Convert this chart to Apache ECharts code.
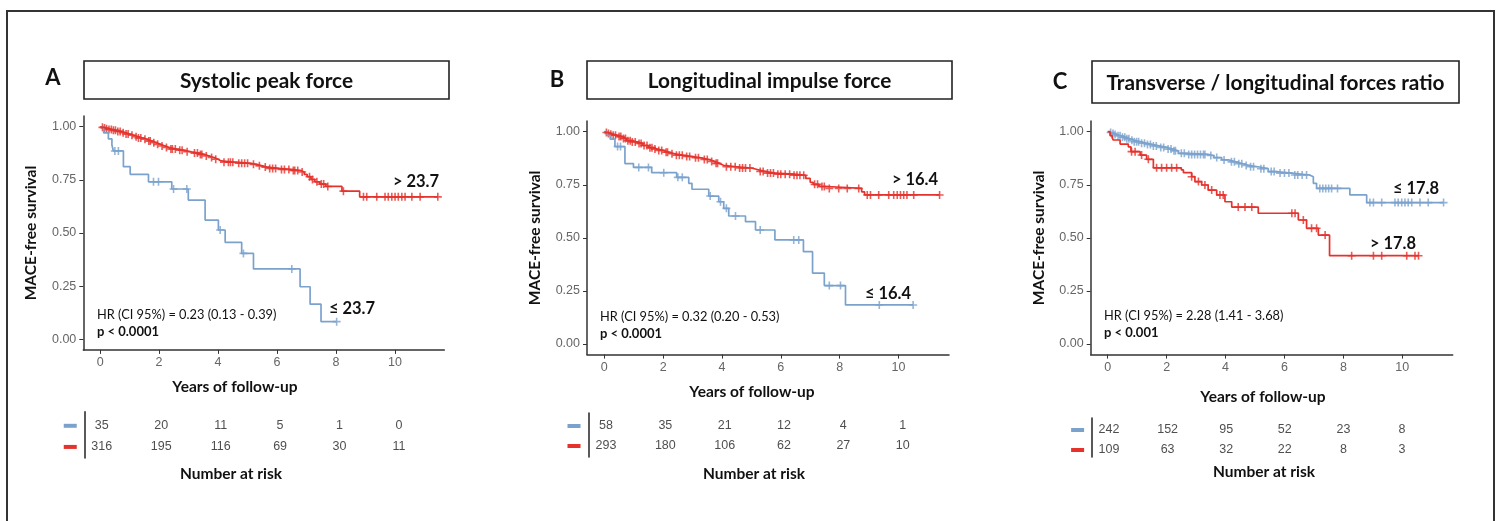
<!DOCTYPE html>
<html>
<head>
<meta charset="utf-8">
<script src="https://cdn.jsdelivr.net/npm/echarts@6/dist/echarts.min.js"></script>
<style>
  html, body { margin: 0; padding: 0; background: #fff; }
  #chart { width: 1501px; height: 521px; }
</style>
</head>
<body>
<div id="chart"></div>
<script>
// ---- Kaplan-Meier data: step points [years, survival], censoring times (years) ----
const riskTimes = [0, 2, 4, 6, 8, 10];
const yTicks = [0, 0.25, 0.5, 0.75, 1];

// Panel A: systolic peak force
const aLowSteps = [[0.12,0.971],[0.28,0.943],[0.4,0.914],[0.45,0.886],[0.79,0.812],[1.02,0.776],[1.64,0.741],[2.43,0.707],[2.99,0.655],[3.56,0.561],[4.01,0.514],[4.24,0.456],[4.8,0.404],[5.2,0.331],[6.78,0.247],[7.12,0.165],[7.49,0.083]];
const aLowEnd = 8.02;
const aLowCensor = [0.5,0.62,1.81,1.98,2.49,2.94,4.07,4.86,6.5,8.02];
const aHighSteps = [[0.05,0.997],[0.12,0.994],[0.2,0.991],[0.3,0.987],[0.42,0.983],[0.55,0.978],[0.7,0.972],[0.85,0.966],[1.0,0.960],[1.15,0.953],[1.3,0.947],[1.45,0.941],[1.6,0.933],[1.75,0.925],[1.9,0.917],[2.05,0.909],[2.2,0.902],[2.35,0.895],[2.6,0.889],[2.85,0.882],[3.1,0.876],[3.35,0.869],[3.55,0.862],[3.7,0.855],[3.85,0.847],[4.0,0.839],[4.1,0.833],[4.6,0.828],[5.1,0.823],[5.3,0.816],[5.5,0.810],[5.65,0.804],[6.05,0.799],[6.45,0.794],[6.8,0.787],[6.92,0.776],[7.02,0.765],[7.15,0.752],[7.28,0.741],[7.45,0.730],[7.65,0.719],[8.2,0.697],[8.8,0.670]];
const aHighEnd = 11.45;
const aHighCensor = [0.08,0.15,0.22,0.3,0.38,0.45,0.52,0.6,0.68,0.78,0.88,0.95,1.08,1.22,1.3,1.38,1.52,1.65,1.7,1.82,1.95,2.1,2.25,2.4,2.45,2.55,2.7,2.78,2.95,3.2,3.3,3.4,3.45,3.6,3.78,3.92,4.2,4.35,4.42,4.5,4.7,4.8,4.9,5.0,5.2,5.4,5.6,5.75,5.85,5.95,6.15,6.25,6.4,6.55,6.6,6.7,6.85,7.1,7.2,7.35,7.5,7.58,7.72,8.25,8.93,9.04,9.38,9.66,9.77,9.89,10.0,10.11,10.23,10.34,10.57,10.85,11.45];
const aLowRisk = [35, 20, 11, 5, 1, 0];
const aHighRisk = [316, 195, 116, 69, 30, 11];

// Panel B: longitudinal impulse force
const bLowSteps = [[0.1,0.983],[0.2,0.965],[0.36,0.93],[0.7,0.85],[0.99,0.832],[1.61,0.807],[2.46,0.785],[2.87,0.757],[2.98,0.729],[3.55,0.697],[3.89,0.67],[4.06,0.639],[4.23,0.603],[4.8,0.576],[5.14,0.537],[5.8,0.49],[6.77,0.435],[7.08,0.334],[7.48,0.275],[8.2,0.184]];
const bLowEnd = 10.5;
const bLowCensor = [0.45,0.55,1.17,1.5,2.02,2.5,2.65,3.6,3.95,4.15,4.46,5.3,6.44,6.61,7.65,8.03,9.35,10.5];
const bHighSteps = [[0.05,0.996],[0.12,0.992],[0.2,0.988],[0.3,0.983],[0.45,0.977],[0.6,0.968],[0.75,0.958],[0.9,0.952],[1.1,0.945],[1.3,0.935],[1.5,0.925],[1.65,0.918],[1.8,0.912],[2.0,0.903],[2.2,0.896],[2.4,0.889],[2.7,0.883],[3.0,0.877],[3.3,0.869],[3.55,0.86],[3.75,0.851],[3.9,0.842],[4.05,0.835],[4.5,0.829],[5.0,0.822],[5.2,0.813],[5.45,0.805],[5.8,0.8],[6.45,0.795],[6.85,0.78],[7.0,0.762],[7.1,0.752],[7.3,0.742],[7.57,0.733],[8.75,0.717],[8.85,0.702]];
const bHighEnd = 11.4;
const bHighCensor = [0.07,0.14,0.22,0.3,0.38,0.5,0.56,0.65,0.72,0.8,0.88,0.95,1.05,1.18,1.25,1.35,1.45,1.55,1.62,1.72,1.85,1.95,2.1,2.15,2.3,2.45,2.55,2.65,2.8,2.9,3.1,3.2,3.4,3.5,3.65,3.8,3.85,4.15,4.3,4.45,4.6,4.7,4.8,4.95,5.3,5.4,5.55,5.65,5.75,5.9,6.0,6.15,6.3,6.45,6.55,6.65,6.78,7.15,7.25,7.4,7.48,7.65,7.97,8.26,8.65,8.94,9.05,9.33,9.67,9.84,9.96,10.07,10.18,10.29,10.52,11.4];
const bLowRisk = [58, 35, 21, 12, 4, 1];
const bHighRisk = [293, 180, 106, 62, 27, 10];

// Panel C: transverse / longitudinal forces ratio
const cLowSteps = [[0.05,0.996],[0.12,0.992],[0.2,0.987],[0.3,0.981],[0.45,0.974],[0.6,0.967],[0.75,0.96],[0.9,0.953],[1.1,0.946],[1.3,0.94],[1.5,0.933],[1.75,0.926],[2.0,0.918],[2.2,0.91],[2.4,0.898],[2.7,0.893],[3.4,0.888],[3.6,0.878],[3.87,0.867],[4.1,0.858],[4.35,0.849],[4.6,0.841],[4.8,0.835],[5.1,0.826],[5.45,0.812],[5.7,0.805],[6.25,0.796],[6.85,0.788],[6.98,0.757],[7.09,0.733],[8.22,0.702],[8.79,0.666]];
const cLowEnd = 11.4;
const cLowCensor = [0.1,0.18,0.25,0.35,0.42,0.5,0.58,0.65,0.72,0.82,0.9,0.98,1.05,1.15,1.25,1.35,1.45,1.55,1.65,1.8,1.9,2.05,2.15,2.25,2.3,2.5,2.6,2.75,2.85,2.95,3.05,3.15,3.25,3.3,3.5,3.7,3.95,4.2,4.3,4.45,4.55,4.7,4.85,4.95,5.2,5.3,5.55,5.65,5.85,6.0,6.15,6.35,6.45,6.6,6.75,7.2,7.3,7.4,7.5,7.6,7.8,8.9,9.02,9.3,9.75,9.86,9.98,10.09,10.2,10.32,10.6,10.88,11.4];
const cHighSteps = [[0.08,0.982],[0.15,0.972],[0.19,0.961],[0.42,0.942],[0.7,0.929],[0.79,0.906],[1.1,0.89],[1.32,0.87],[1.55,0.83],[2.5,0.82],[2.57,0.807],[2.85,0.788],[2.96,0.765],[3.19,0.749],[3.41,0.725],[3.7,0.702],[3.98,0.67],[4.21,0.645],[5.11,0.616],[6.47,0.584],[6.75,0.545],[7.15,0.513],[7.53,0.416]];
const cHighEnd = 10.55;
const cHighCensor = [0.81,0.93,1.15,1.38,1.66,1.83,2.0,2.17,2.34,2.85,3.08,3.3,3.53,3.81,3.92,4.43,4.66,4.89,6.25,6.36,6.64,6.92,7.09,7.38,8.28,9.02,9.3,10.15,10.43,10.55];
const cLowRisk = [242, 152, 95, 52, 23, 8];
const cHighRisk = [109, 63, 32, 22, 8, 3];

// ---- styling ----
const BLUE = '#7ba2cd';
const RED = '#e5322c';
const SANS = '"Liberation Sans", Arial, sans-serif';
const CAL = 'Lato, "Open Sans", sans-serif';
const PLUS = 'path://M4,0H6V4H10V6H6V10H4V6H0V4H4Z';

// layout of each panel (pixels)
const panels = [
  { letter: 'A', title: 'Systolic peak force',
    low: [aLowSteps, aLowEnd, aLowCensor, aLowRisk], high: [aHighSteps, aHighEnd, aHighCensor, aHighRisk],
    plot: { left: 83.3, top: 116.1, width: 361, height: 233.8 }, xr: [-0.57, 11.67],
    risk: { left: 84.75, top: 411.7, width: 363.9, height: 46.3 }, ry: [-0.667, 1.524],
    letterPos: [53, 78], box: [84, 61, 365, 38], xTitle: [235, 387], nar: [231, 474],
    hr: [97, 315], hrText: 'HR (CI 95%) = 0.23 (0.13 - 0.39)', pText: 'p < 0.0001',
    lowLab: ['≤ 23.7', 352, 309], highLab: ['> 23.7', 416, 182] },
  { letter: 'B', title: 'Longitudinal impulse force',
    low: [bLowSteps, bLowEnd, bLowCensor, bLowRisk], high: [bHighSteps, bHighEnd, bHighCensor, bHighRisk],
    plot: { left: 587, top: 121.1, width: 362, height: 233.5 }, xr: [-0.59, 11.72],
    risk: { left: 588.5, top: 413, width: 365.2, height: 44 }, ry: [-0.65, 1.55],
    letterPos: [557, 80], box: [587, 61, 365, 38], xTitle: [752, 391.7], nar: [754, 474],
    hr: [600, 317], hrText: 'HR (CI 95%) = 0.32 (0.20 - 0.53)', pText: 'p < 0.0001',
    lowLab: ['≤ 16.4', 888, 294], highLab: ['> 16.4', 915, 180] },
  { letter: 'C', title: 'Transverse / longitudinal forces ratio',
    low: [cLowSteps, cLowEnd, cLowCensor, cLowRisk], high: [cHighSteps, cHighEnd, cHighCensor, cHighRisk],
    plot: { left: 1090.7, top: 121.1, width: 362, height: 233.5 }, xr: [-0.577, 11.71],
    risk: { left: 1092.1, top: 418, width: 360, height: 39 }, ry: [-0.6, 1.35],
    letterPos: [1060, 82], box: [1092, 61, 367, 42], xTitle: [1263, 397], nar: [1264, 472],
    hr: [1104, 316], hrText: 'HR (CI 95%) = 2.28 (1.41 - 3.68)', pText: 'p < 0.001',
    lowLab: ['≤ 17.8', 1416, 189], highLab: ['> 17.8', 1393, 244] }
];

function survAt(steps, t) {
  let s = 1;
  for (const [ti, si] of steps) if (ti <= t) s = si;
  return s;
}
function curve(steps, end) {
  return [[0, 1]].concat(steps, [[end, steps[steps.length - 1][1]]]);
}

const grid = [], xAxis = [], yAxis = [], series = [], graphic = [];

graphic.push({ type: 'rect', shape: { x: 7, y: 11, width: 1487, height: 530 },
  style: { fill: 'none', stroke: '#333', lineWidth: 2 }, z: 100 });

panels.forEach((p, i) => {
  const gPlot = grid.length;
  grid.push(Object.assign({ containLabel: false }, p.plot));
  xAxis.push({ gridIndex: gPlot, type: 'value', min: p.xr[0], max: p.xr[1],
    axisLine: { show: true, onZero: false, lineStyle: { color: '#333', width: 1.5 } },
    axisTick: { show: true, length: 4, customValues: riskTimes, lineStyle: { color: '#333', width: 1 } },
    axisLabel: { customValues: riskTimes, color: '#666', fontSize: 12.5, fontFamily: SANS, margin: 6 },
    splitLine: { show: false } });
  yAxis.push({ gridIndex: gPlot, type: 'value', min: -0.05, max: 1.05,
    name: 'MACE-free survival', nameLocation: 'middle', nameRotate: 90, nameGap: 44,
    nameTextStyle: { fontFamily: CAL, fontWeight: 'bold', fontSize: 15.5, color: '#111' },
    axisLine: { show: true, onZero: false, lineStyle: { color: '#333', width: 1.5 } },
    axisTick: { show: true, length: 4, customValues: yTicks, lineStyle: { color: '#333', width: 1 } },
    axisLabel: { customValues: yTicks, color: '#666', fontSize: 12.5, fontFamily: SANS, margin: 7,
      formatter: v => v.toFixed(2) },
    splitLine: { show: false } });

  [[p.low, BLUE], [p.high, RED]].forEach(([g, col]) => {
    const [steps, end, cens] = g;
    series.push({ type: 'line', xAxisIndex: gPlot, yAxisIndex: gPlot, step: 'end',
      data: curve(steps, end), showSymbol: false, symbol: 'none',
      lineStyle: { color: col, width: 1.7 }, silent: true, animation: false });
    series.push({ type: 'scatter', xAxisIndex: gPlot, yAxisIndex: gPlot,
      data: cens.map(t => [t, survAt(steps, t)]), symbol: PLUS, symbolSize: 8,
      itemStyle: { color: col }, silent: true, animation: false });
  });

  // number-at-risk table
  const gRisk = grid.length;
  grid.push(Object.assign({ containLabel: false }, p.risk));
  xAxis.push({ gridIndex: gRisk, type: 'value', min: p.xr[0], max: p.xr[1], show: false });
  yAxis.push({ gridIndex: gRisk, type: 'value', min: p.ry[0], max: p.ry[1], inverse: true,
    axisLine: { show: true, onZero: false, lineStyle: { color: '#222', width: 1.5 } },
    axisTick: { show: false }, splitLine: { show: false },
    axisLabel: { customValues: [0, 1], margin: 8, formatter: v => v === 0 ? '{b| }' : '{r| }',
      rich: { b: { backgroundColor: BLUE, width: 13, height: 4, fontSize: 1 },
              r: { backgroundColor: RED, width: 13, height: 4, fontSize: 1 } } } });
  [[p.low[3], 0], [p.high[3], 1]].forEach(([counts, row]) => {
    series.push({ type: 'scatter', xAxisIndex: gRisk, yAxisIndex: gRisk,
      data: riskTimes.map((t, k) => [t, row, counts[k]]), symbolSize: 1,
      itemStyle: { color: 'rgba(0,0,0,0)' }, silent: true, animation: false,
      label: { show: true, position: 'inside', formatter: d => String(d.value[2]),
        color: '#222', fontSize: 12.5, fontFamily: SANS } });
  });

  // panel text
  const [bx, by, bw, bh] = p.box;
  graphic.push({ type: 'rect', shape: { x: bx, y: by, width: bw, height: bh },
    style: { fill: '#fff', stroke: '#222', lineWidth: 1.6 } });
  graphic.push({ type: 'text', style: { x: bx + bw / 2, y: by + bh / 2 + 1, text: p.title,
    font: 'bold 20.8px ' + CAL, fill: '#111', align: 'center', verticalAlign: 'middle' } });
  graphic.push({ type: 'text', style: { x: p.letterPos[0], y: p.letterPos[1], text: p.letter,
    font: 'bold 22px ' + CAL, fill: '#111', align: 'center', verticalAlign: 'middle' } });
  graphic.push({ type: 'text', style: { x: p.xTitle[0], y: p.xTitle[1], text: 'Years of follow-up',
    font: 'bold 15.5px ' + CAL, fill: '#111', align: 'center', verticalAlign: 'middle' } });
  graphic.push({ type: 'text', style: { x: p.nar[0], y: p.nar[1], text: 'Number at risk',
    font: 'bold 15.5px ' + CAL, fill: '#111', align: 'center', verticalAlign: 'middle' } });
  graphic.push({ type: 'text', style: { x: p.hr[0], y: p.hr[1], text: p.hrText,
    font: '12.8px ' + CAL, fill: '#111', align: 'left', verticalAlign: 'middle' } });
  graphic.push({ type: 'text', style: { x: p.hr[0], y: p.hr[1] + 17, text: p.pText,
    font: 'bold 13px ' + CAL, fill: '#111', align: 'left', verticalAlign: 'middle' } });
  [p.lowLab, p.highLab].forEach(([txt, x, y]) => {
    graphic.push({ type: 'text', style: { x: x, y: y, text: txt,
      font: 'bold 16.5px ' + CAL, fill: '#111', align: 'center', verticalAlign: 'middle' } });
  });
});

const chart = echarts.init(document.getElementById('chart'), null, { renderer: 'canvas' });
chart.setOption({ animation: false, backgroundColor: '#fff', grid, xAxis, yAxis, series, graphic });
</script>
</body>
</html>
